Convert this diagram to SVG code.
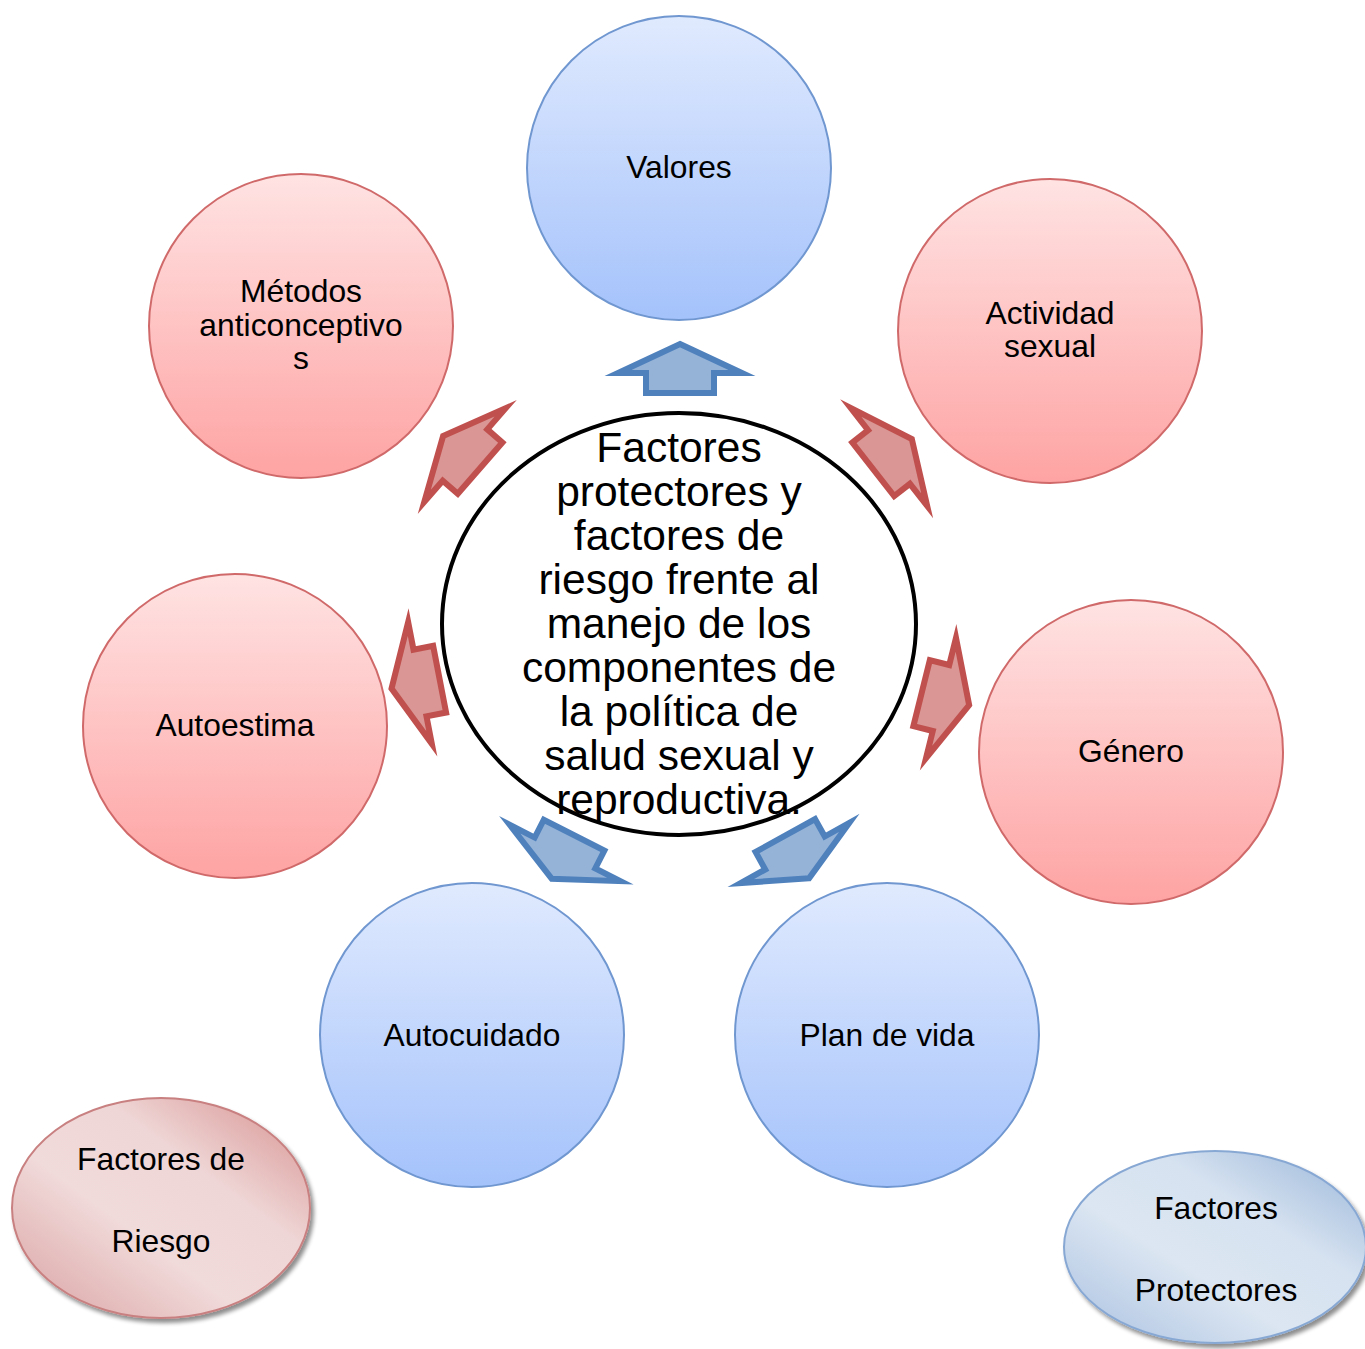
<svg xmlns="http://www.w3.org/2000/svg" width="1365" height="1349" viewBox="0 0 1365 1349">
<defs>
<linearGradient id="gBlue" x1="0" y1="0" x2="0" y2="1">
<stop offset="0" stop-color="#e0eafe"/>
<stop offset="1" stop-color="#a4c2fb"/>
</linearGradient>
<linearGradient id="gRed" x1="0" y1="0" x2="0" y2="1">
<stop offset="0" stop-color="#ffe3e3"/>
<stop offset="1" stop-color="#fea3a3"/>
</linearGradient>
<linearGradient id="gLegR" x1="1" y1="0" x2="0" y2="1">
<stop offset="0" stop-color="#d58f8d"/>
<stop offset="0.35" stop-color="#efd6d6"/>
<stop offset="0.6" stop-color="#f1dada"/>
<stop offset="1" stop-color="#d9a0a0"/>
</linearGradient>
<linearGradient id="gLegB" x1="1" y1="0" x2="0" y2="1">
<stop offset="0" stop-color="#97b4d8"/>
<stop offset="0.35" stop-color="#d6e2f0"/>
<stop offset="0.6" stop-color="#dce6f2"/>
<stop offset="1" stop-color="#a8c0e0"/>
</linearGradient>
<filter id="shadow" x="-10%" y="-10%" width="130%" height="130%">
<feGaussianBlur in="SourceAlpha" stdDeviation="2"/>
<feOffset dx="3" dy="4" result="b"/>
<feComponentTransfer><feFuncA type="linear" slope="0.45"/></feComponentTransfer>
<feMerge><feMergeNode/><feMergeNode in="SourceGraphic"/></feMerge>
</filter>
<polygon id="arrowShape" points="0,-29 62,0 34,0 34,20 -34,20 -34,0 -62,0"/>
</defs>
<style>
.blue{fill:url(#gBlue);stroke:#7097d0;stroke-width:2}
.red{fill:url(#gRed);stroke:#d06a6a;stroke-width:2}
.t{font-family:"Liberation Sans",Arial,sans-serif;font-size:31.8px;fill:#000;text-anchor:middle}
.tc{font-family:"Liberation Sans",Arial,sans-serif;font-size:42.5px;fill:#000;text-anchor:middle}
.ab{fill:#95b3d7;stroke:#4f81bd;stroke-width:6;stroke-linejoin:miter;stroke-miterlimit:10}
.ar{fill:#d99694;stroke:#c0504d;stroke-width:6;stroke-linejoin:miter;stroke-miterlimit:10}
</style>
<rect width="1365" height="1349" fill="#fff"/>

<g id="valores"><circle class="blue" cx="679" cy="168" r="152"/><text class="t" x="679" y="178">Valores</text></g>
<g id="actividad-sexual"><circle class="red" cx="1050" cy="331" r="152"/><text class="t" x="1050" y="324">Actividad</text><text class="t" x="1050" y="357">sexual</text></g>
<g id="genero"><circle class="red" cx="1131" cy="752" r="152"/><text class="t" x="1131" y="762">Género</text></g>
<g id="plan-de-vida"><circle class="blue" cx="887" cy="1035" r="152"/><text class="t" x="887" y="1046">Plan de vida</text></g>
<g id="autocuidado"><circle class="blue" cx="472" cy="1035" r="152"/><text class="t" x="472" y="1046">Autocuidado</text></g>
<g id="autoestima"><circle class="red" cx="235" cy="726" r="152"/><text class="t" x="235" y="736">Autoestima</text></g>
<g id="metodos"><circle class="red" cx="301" cy="326" r="152"/><text class="t" x="301" y="302">Métodos</text><text class="t" x="301" y="336">anticonceptivo</text><text class="t" x="301" y="369">s</text></g>

<g id="centro"><ellipse cx="679" cy="624" rx="237" ry="211" fill="#fff" stroke="#000" stroke-width="4"/>
<text class="tc" x="679" y="462">Factores</text>
<text class="tc" x="679" y="506">protectores y</text>
<text class="tc" x="679" y="550">factores de</text>
<text class="tc" x="679" y="594">riesgo frente al</text>
<text class="tc" x="679" y="638">manejo de los</text>
<text class="tc" x="679" y="682">componentes de</text>
<text class="tc" x="679" y="726">la política de</text>
<text class="tc" x="679" y="770">salud sexual y</text>
<text class="tc" x="679" y="814">reproductiva.</text>
</g>

<g id="connectors">
<use href="#arrowShape" class="ab" transform="translate(680,373)"/>
<use href="#arrowShape" class="ar" transform="translate(889,457) rotate(52)"/>
<use href="#arrowShape" class="ar" transform="translate(941,698) rotate(104)"/>
<use href="#arrowShape" class="ar" transform="translate(420,683) rotate(-101)"/>
<use href="#arrowShape" class="ar" transform="translate(465,455) rotate(-49)"/>
<use href="#arrowShape" class="ab" transform="translate(565,853) rotate(-153)"/>
<use href="#arrowShape" class="ab" transform="translate(795,853) rotate(151)"/>
</g>

<g id="leyenda-riesgo"><ellipse cx="161" cy="1208" rx="149" ry="110" fill="url(#gLegR)" stroke="#c98080" stroke-width="2" filter="url(#shadow)"/>
<text class="t" x="161" y="1170">Factores de</text><text class="t" x="161" y="1252">Riesgo</text></g>
<g id="leyenda-protectores"><ellipse cx="1215" cy="1247" rx="151" ry="96" fill="url(#gLegB)" stroke="#88a8d4" stroke-width="2" filter="url(#shadow)"/>
<text class="t" x="1216" y="1219">Factores</text><text class="t" x="1216" y="1301">Protectores</text></g>
</svg>
